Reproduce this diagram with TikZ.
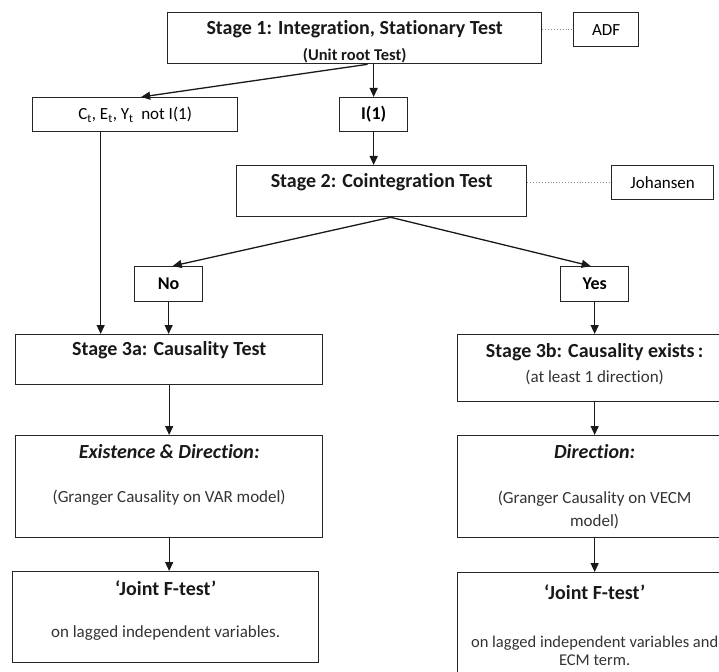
\documentclass[tikz,border=0pt]{standalone}
\usepackage{fontspec}
\setmainfont[Ligatures=NoCommon]{Carlito}
\usetikzlibrary{arrows.meta,positioning}
\tikzset{
  box/.style={draw=black!85, line width=1.3pt, inner sep=0pt, anchor=north west},
  title/.style={font=\bfseries\fontsize{20}{24}\selectfont, text=black!90, inner sep=0pt},
  subtitle/.style={font=\bfseries\fontsize{16.5}{19}\selectfont, text=black!90, inner sep=0pt},
  note/.style={font=\fontsize{17}{20}\selectfont, text=black!80, inner sep=0pt, align=center},
  arr/.style={draw=black!90, line width=1.3pt, -{Triangle[length=9pt,width=8pt]}},
  link/.style={draw=black!45, line width=0.9pt, dotted},
}
\begin{document}
\begin{tikzpicture}[x=1pt,y=-1pt]
  \useasboundingbox (0,0) rectangle (719,671);
  % boxes
  \node[box, minimum width=374pt, minimum height=51pt] (s1) at (167,12) {};
  \node[box, minimum width=65pt, minimum height=34pt, font=\fontsize{17}{20}\selectfont] (adf) at (573,12) {ADF};
  \node[box, minimum width=205pt, minimum height=34pt, font=\fontsize{17}{20}\selectfont] (noti) at (32,97)
    {C\textsubscript{t}, E\textsubscript{t}, Y\textsubscript{t}\ \ not I(1)};
  \node[box, minimum width=68pt, minimum height=34pt, font=\bfseries\fontsize{18}{20}\selectfont] (i1) at (339,97) {I(1)};
  \node[box, minimum width=290pt, minimum height=51pt] (s2) at (236,165) {};
  \node[box, minimum width=102pt, minimum height=34pt, font=\fontsize{17}{20}\selectfont] (joh) at (611,165) {Johansen};
  \node[box, minimum width=68pt, minimum height=35pt, font=\bfseries\fontsize{18}{20}\selectfont] (no) at (134,266) {No};
  \node[box, minimum width=68pt, minimum height=35pt, font=\bfseries\fontsize{18}{20}\selectfont] (yes) at (560,266) {Yes};
  \node[box, minimum width=307pt, minimum height=50pt] (s3a) at (15,334) {};
  \node[box, minimum width=274pt, minimum height=67pt] (s3b) at (457,334) {};
  \node[box, minimum width=307pt, minimum height=102pt] (exa) at (15,435) {};
  \node[box, minimum width=274pt, minimum height=102pt] (exb) at (457,435) {};
  \node[box, minimum width=306pt, minimum height=91pt] (jfa) at (12,571) {};
  \node[box, minimum width=274pt, minimum height=120pt] (jfb) at (457,572) {};
  % texts inside the boxes
  \node[title] (s1t) at ([yshift=-17pt]s1.north) {Stage 1: Integration, Stationary Test};
  \node[subtitle] (s1s) at ([yshift=-44pt]s1.north) {(Unit root Test)};
  \node[title] (s2t) at ([yshift=-17pt]s2.north) {Stage 2: Cointegration Test};
  \node[title] (s3at) at ([yshift=-16pt]s3a.north) {Stage 3a: Causality Test};
  \node[title] (s3bt) at ([yshift=-18pt]s3b.north) {Stage 3b: Causality exists\,:};
  \node[note] (s3bs) at ([yshift=-43pt]s3b.north) {(at least 1 direction)};
  \node[title, font=\bfseries\itshape\fontsize{20}{24}\selectfont] (exat) at ([yshift=-17pt]exa.north) {Existence \& Direction:};
  \node[note] (exas) at ([yshift=-63pt]exa.north) {(Granger Causality on VAR model)};
  \node[title, font=\bfseries\itshape\fontsize{20}{24}\selectfont] (exbt) at ([yshift=-17pt]exb.north) {Direction:};
  \node[note, font=\fontsize{17}{23}\selectfont] (exbs) at ([yshift=-75pt]exb.north) {(Granger Causality on VECM\\model)};
  \node[title] (jfat) at ([yshift=-17pt]jfa.north) {‘Joint F-test’};
  \node[note] (jfas) at ([yshift=-62pt]jfa.north) {on lagged independent variables.};
  \node[title] (jfbt) at ([yshift=-20pt]jfb.north) {‘Joint F-test’};
  \node[note, font=\fontsize{16.5}{18.5}\selectfont] (jfbs) at ([yshift=-79pt]jfb.north) {on lagged independent variables and\\ECM term.};
  % connectors
  \coordinate (s1out) at ([xshift=13pt]s1.south);
  \coordinate (s2out) at ([xshift=9pt]s2.south);
  \coordinate (drop) at ([xshift=-34.5pt]noti.south);
  \draw[arr] (i1.north |- s1.south) -- (i1.north);
  \draw[arr] (s1out) -- ([xshift=6pt]noti.north);
  \draw[arr] (i1.south) -- (i1.south |- s2.north);
  \draw[arr] (s2out) -- ([xshift=4pt]no.north);
  \draw[arr] (s2out) -- ([xshift=-4pt]yes.north);
  \draw[arr] (drop) -- (drop |- s3a.north);
  \draw[arr] (no.south) -- (no.south |- s3a.north);
  \draw[arr] (yes.south) -- (yes.south |- s3b.north);
  \draw[arr] (s3a.south) -- (exa.north);
  \draw[arr] (exa.south) -- (exa.south |- jfa.north);
  \draw[arr] (s3b.south) -- (exb.north);
  \draw[arr] (exb.south) -- (jfb.north);
  \draw[link] (s1.east |- adf.west) -- (adf.west);
  \draw[link] (s2.east |- joh.west) -- (joh.west);
\end{tikzpicture}
\end{document}
